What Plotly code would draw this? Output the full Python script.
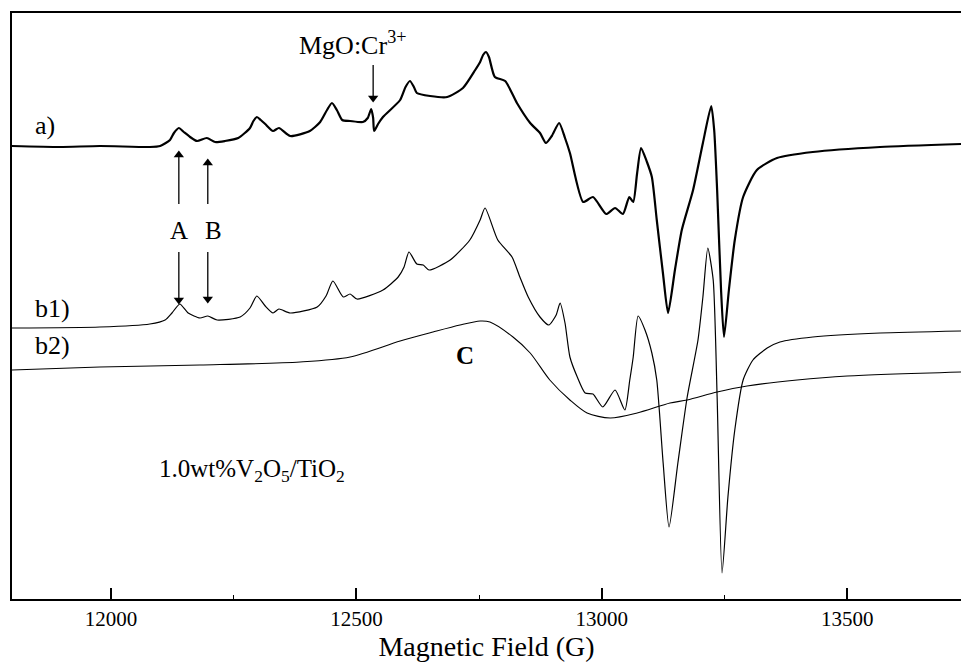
import plotly.graph_objects as go

# ---- data (field in G, intensity in arbitrary units) ----
field_a = [11798, 11896, 11977, 12079, 12100, 12120, 12128, 12138, 12148, 12161, 12175, 12195,
           12212, 12232, 12259, 12283, 12290, 12297, 12305, 12314, 12330, 12342, 12365, 12405,
           12426, 12440, 12450, 12460, 12471, 12487, 12513, 12523, 12530, 12534, 12536, 12544,
           12554, 12589, 12600, 12609, 12617, 12623, 12650, 12685, 12717, 12742, 12752, 12758,
           12764, 12770, 12782, 12803, 12827, 12854, 12874, 12886, 12898, 12913, 12925, 12935,
           12962, 12982, 13009, 13027, 13043, 13056, 13064, 13072, 13080, 13092, 13102, 13112,
           13125, 13135, 13149, 13163, 13186, 13206, 13223, 13229, 13235, 13243, 13249, 13259,
           13271, 13288, 13316, 13357, 13430, 13567, 13732]
signal_a = [453, 452, 453, 452, 453, 459, 466, 471, 467, 462, 458, 461,
            457, 458, 461, 471, 478, 482, 479, 475, 468, 471, 463, 468,
            477, 489, 496, 489, 479, 478, 477, 481, 490, 481, 468, 475,
            482, 499, 512, 518, 512, 506, 503, 502, 511, 529, 537, 544,
            547, 542, 522, 518, 496, 476, 466, 456, 463, 476, 461, 446,
            397, 402, 385, 391, 385, 402, 397, 426, 451, 437, 422, 379,
            324, 286, 329, 369, 409, 456, 493, 469, 409, 309, 262, 309,
            359, 402, 429, 441, 447, 452, 455]

field_b1 = [11798, 11977, 12079, 12110, 12124, 12140, 12157, 12181, 12197, 12216, 12263, 12283,
            12297, 12314, 12330, 12342, 12365, 12420, 12438, 12452, 12473, 12487, 12501, 12554,
            12585, 12597, 12607, 12623, 12636, 12648, 12691, 12731, 12752, 12762, 12788, 12817,
            12833, 12850, 12874, 12892, 12907, 12915, 12925, 12935, 12950, 12966, 12982, 13002,
            13027, 13047, 13057, 13064, 13074, 13088, 13102, 13112, 13125, 13137, 13155, 13174,
            13196, 13206, 13216, 13227, 13235, 13245, 13257, 13271, 13288, 13308, 13337, 13363,
            13430, 13567, 13732]
signal_b1 = [271, 272, 275, 279, 286, 295, 286, 281, 283, 279, 282, 291,
             303, 293, 286, 290, 286, 292, 303, 318, 302, 305, 300, 309,
             322, 332, 347, 335, 334, 329, 339, 359, 379, 391, 359, 342,
             322, 302, 282, 274, 284, 296, 276, 242, 222, 206, 205, 192,
             209, 189, 219, 242, 283, 269, 246, 219, 136, 72, 136, 202,
             259, 302, 351, 319, 202, 26, 102, 169, 219, 239, 251, 257,
             262, 266, 268]

field_b2 = [11798, 11977, 12181, 12385, 12487, 12589, 12656, 12711, 12752, 12772, 12819, 12854,
            12894, 12935, 12970, 13017, 13072, 13139, 13174, 13235, 13296, 13398, 13500, 13732]
signal_b2 = [229, 232, 234, 237, 242, 258, 267, 274, 278, 277, 262, 246,
             219, 199, 186, 181, 186, 196, 199, 207, 213, 219, 223, 227]

tick_vals = [12000, 12500, 13000, 13500]
tick_text = ["12000", "12500", "13000", "13500"]

# annotation arrows: field, head level, tail level
arrow_x = [12138, 12138, 12197, 12197, 12534]
arrow_head = [444, 299, 436, 300, 501]
arrow_tail = [395, 347, 395, 347, 534]

FONT = "Liberation Serif"

fig = go.Figure()
fig.add_trace(go.Scatter(x=field_a, y=signal_a, mode="lines",
                         line=dict(color="black", width=2.2, shape="spline", smoothing=0.6),
                         showlegend=False, hoverinfo="skip"))
fig.add_trace(go.Scatter(x=field_b1, y=signal_b1, mode="lines",
                         line=dict(color="black", width=1.2, shape="spline", smoothing=0.6),
                         showlegend=False, hoverinfo="skip"))
fig.add_trace(go.Scatter(x=field_b2, y=signal_b2, mode="lines",
                         line=dict(color="black", width=1.1, shape="spline", smoothing=0.8),
                         showlegend=False, hoverinfo="skip"))

# arrows drawn as line segments with a triangular head
for x, hy, ty in zip(arrow_x, arrow_head, arrow_tail):
    fig.add_trace(go.Scatter(x=[x, x], y=[ty, hy], mode="lines",
                             line=dict(color="black", width=1.3),
                             showlegend=False, hoverinfo="skip"))
    fig.add_trace(go.Scatter(x=[x], y=[hy], mode="markers",
                             marker=dict(symbol="triangle-up" if hy > ty else "triangle-down",
                                         size=9, color="black", line=dict(width=0)),
                             showlegend=False, hoverinfo="skip"))

# text labels
labels = [
    (11865, 474, "a)", 26),
    (11880, 291, "b1)", 26),
    (11880, 254, "b2)", 26),
    (12721, 244, "<b>C</b>", 25),
    (12138, 369, "A", 25),
    (12208, 369, "B", 25),
    (12491, 556, "MgO:Cr<sup>3+</sup>", 26),
    (12287, 129, "1.0wt%V<sub>2</sub>O<sub>5</sub>/TiO<sub>2</sub>", 25),
]
for x, y, t, s in labels:
    fig.add_annotation(x=x, y=y, text=t, showarrow=False, xanchor="center", yanchor="middle",
                       font=dict(family=FONT, size=s, color="black"))

fig.update_layout(
    width=961, height=668,
    margin=dict(l=12, r=0, t=13, b=69),
    paper_bgcolor="white", plot_bgcolor="white",
    font=dict(family=FONT, color="black"),
    xaxis=dict(range=[11798, 13732], showgrid=False, zeroline=False,
               showline=True, linecolor="black", linewidth=2, mirror=True,
               ticks="inside", ticklen=11, tickwidth=1.5, tickcolor="black",
               tickvals=tick_vals, ticktext=tick_text,
               tickfont=dict(family=FONT, size=21, color="black"),
               minor=dict(ticks="inside", ticklen=4, tickwidth=1.2, tickcolor="black",
                          tickvals=[12250, 12750, 13250]),
               title=dict(text="Magnetic Field (G)", font=dict(family=FONT, size=28, color="black"),
                          standoff=4)),
    yaxis=dict(range=[0, 586], showgrid=False, zeroline=False, showticklabels=False,
               ticks="", showline=True, linecolor="black", linewidth=2),
)

fig.write_html("out.html")
